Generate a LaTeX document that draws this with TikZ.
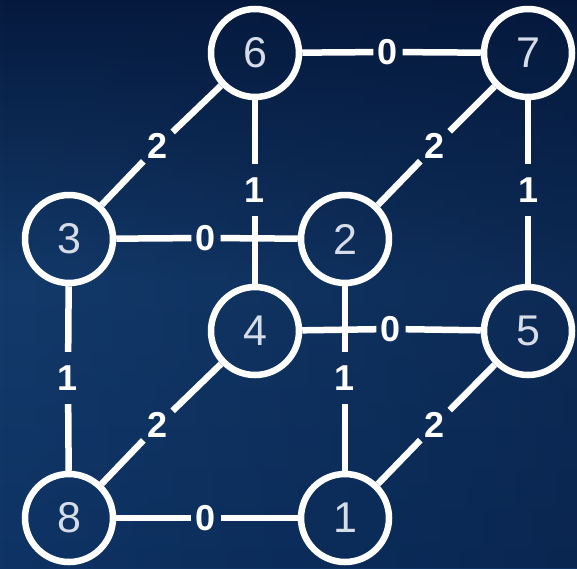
\documentclass[tikz,border=0pt]{standalone}
\usepackage{fontspec}
\setmainfont{Liberation Sans}
\usetikzlibrary{fadings}
\definecolor{bgtop}{HTML}{061A3E}
\definecolor{bgmid}{HTML}{133A6A}
\definecolor{bgbot}{HTML}{0E3364}
\definecolor{bgdark}{HTML}{04173A}
\definecolor{digit}{HTML}{D6DCE8}
\newcommand\wtxt[1]{{\fontsize{36pt}{36pt}\selectfont\bfseries #1}}
\begin{document}
\begin{tikzpicture}[x=1pt,y=-1pt,
  vertex/.style={circle,draw=white,line width=6.5pt,minimum size=88pt,inner sep=0pt,
    text=digit,font=\fontsize{43}{43}\selectfont},
  wlabel/.style={rectangle,inner sep=0pt,minimum width=29pt,minimum height=52pt,
    text=white},
  edge/.style={draw=white,line width=6.5pt}]
\shade[top color=bgtop,bottom color=bgbot,middle color=bgmid] (0,0) rectangle (577,568);
\fill[bgdark,path fading=west,opacity=0.45] (0,0) rectangle (577,568);
\useasboundingbox (0,0) rectangle (577,568);
% vertices
\node[vertex] (n6) at (255,53) {6};
\node[vertex] (n7) at (528,53) {7};
\node[vertex] (n3) at (69,239) {3};
\node[vertex] (n2) at (345,239) {2};
\node[vertex] (n4) at (255,331) {4};
\node[vertex] (n5) at (528,331) {5};
\node[vertex] (n8) at (69,518) {8};
\node[vertex] (n1) at (345,518) {1};
% weight labels
\node[wlabel] (l67) at (388,52) {\wtxt{0}};
\node[wlabel] (l36) at (158,146) {\wtxt{2}};
\node[wlabel] (l72) at (435,146) {\wtxt{2}};
\node[wlabel] (l64) at (255,190) {\wtxt{1}};
\node[wlabel] (l75) at (528,190) {\wtxt{1}};
\node[wlabel] (l32) at (206,238) {\wtxt{0}};
\node[wlabel] (l45) at (391,329) {\wtxt{0}};
\node[wlabel] (l38) at (68,378) {\wtxt{1}};
\node[wlabel] (l21) at (345,378) {\wtxt{1}};
\node[wlabel] (l84) at (158,425) {\wtxt{2}};
\node[wlabel] (l15) at (435,425) {\wtxt{2}};
\node[wlabel] (l81) at (206,518) {\wtxt{0}};
% edges
\draw[edge] (n6) -- (l67) -- (n7);
\draw[edge] (n3) -- (l36) -- (n6);
\draw[edge] (n2) -- (l72) -- (n7);
\draw[edge] (n6) -- (l64) -- (n4);
\draw[edge] (n7) -- (l75) -- (n5);
\draw[edge] (n3) -- (l32) -- (n2);
\draw[edge] (n4) -- (l45) -- (n5);
\draw[edge] (n3) -- (l38) -- (n8);
\draw[edge] (n2) -- (l21) -- (n1);
\draw[edge] (n8) -- (l84) -- (n4);
\draw[edge] (n1) -- (l15) -- (n5);
\draw[edge] (n8) -- (l81) -- (n1);
\end{tikzpicture}
\end{document}
